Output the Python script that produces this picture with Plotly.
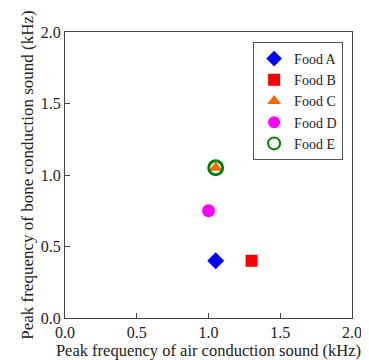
import plotly.graph_objects as go

names = ["Food A", "Food B", "Food C", "Food D", "Food E"]
air_khz = [1.05, 1.30, 1.05, 1.00, 1.05]
bone_khz = [0.40, 0.40, 1.05, 0.75, 1.05]
symbols = ["diamond", "square", "triangle-up", "circle", "circle-open"]
colors = ["#0000ff", "#ff0000", "#ff6600", "#ff00ff", "#008000"]
sizes = [13, 12, 12, 13, 14]

tick_vals = [0.0, 0.5, 1.0, 1.5, 2.0]
tick_text = ["0.0", "0.5", "1.0", "1.5", "2.0"]

fig = go.Figure()
for n, x, y, s, c, sz in zip(names, air_khz, bone_khz, symbols, colors, sizes):
    fig.add_trace(go.Scatter(
        x=[x], y=[y], mode="markers", name=n,
        marker=dict(symbol=s, color=c, size=sz,
                    line=dict(width=3 if s == "circle-open" else 0, color=c)),
    ))

font = dict(family="Liberation Serif, Times New Roman, serif", color="#222", size=16)
axis_common = dict(
    range=[0, 2.0], tickvals=tick_vals, ticktext=tick_text,
    showgrid=False, zeroline=False, showline=True, linecolor="#444", linewidth=1,
    mirror=True, ticks="inside", ticklen=5, tickcolor="#444",
    tickfont=dict(size=16), automargin=False,
)
# page body has an 8px default margin, so the figure is sized to fit the window
fig.update_layout(
    width=361, height=352,
    margin=dict(l=57, r=17, t=24, b=42),
    plot_bgcolor="white", paper_bgcolor="white",
    font=font,
    xaxis=dict(**axis_common, title=dict(text="Peak frequency of air conduction sound (kHz)", standoff=9, font=dict(size=16.5))),
    yaxis=dict(**axis_common, title=dict(text="Peak frequency of bone conduction sound (kHz)", standoff=2, font=dict(size=17))),
    legend=dict(x=0.969, y=0.965, xanchor="right", yanchor="top",
                bordercolor="#555", borderwidth=1, bgcolor="white",
                font=dict(size=14), itemsizing="constant", itemwidth=30,
                tracegroupgap=0),
)
fig.write_html("out.html")
